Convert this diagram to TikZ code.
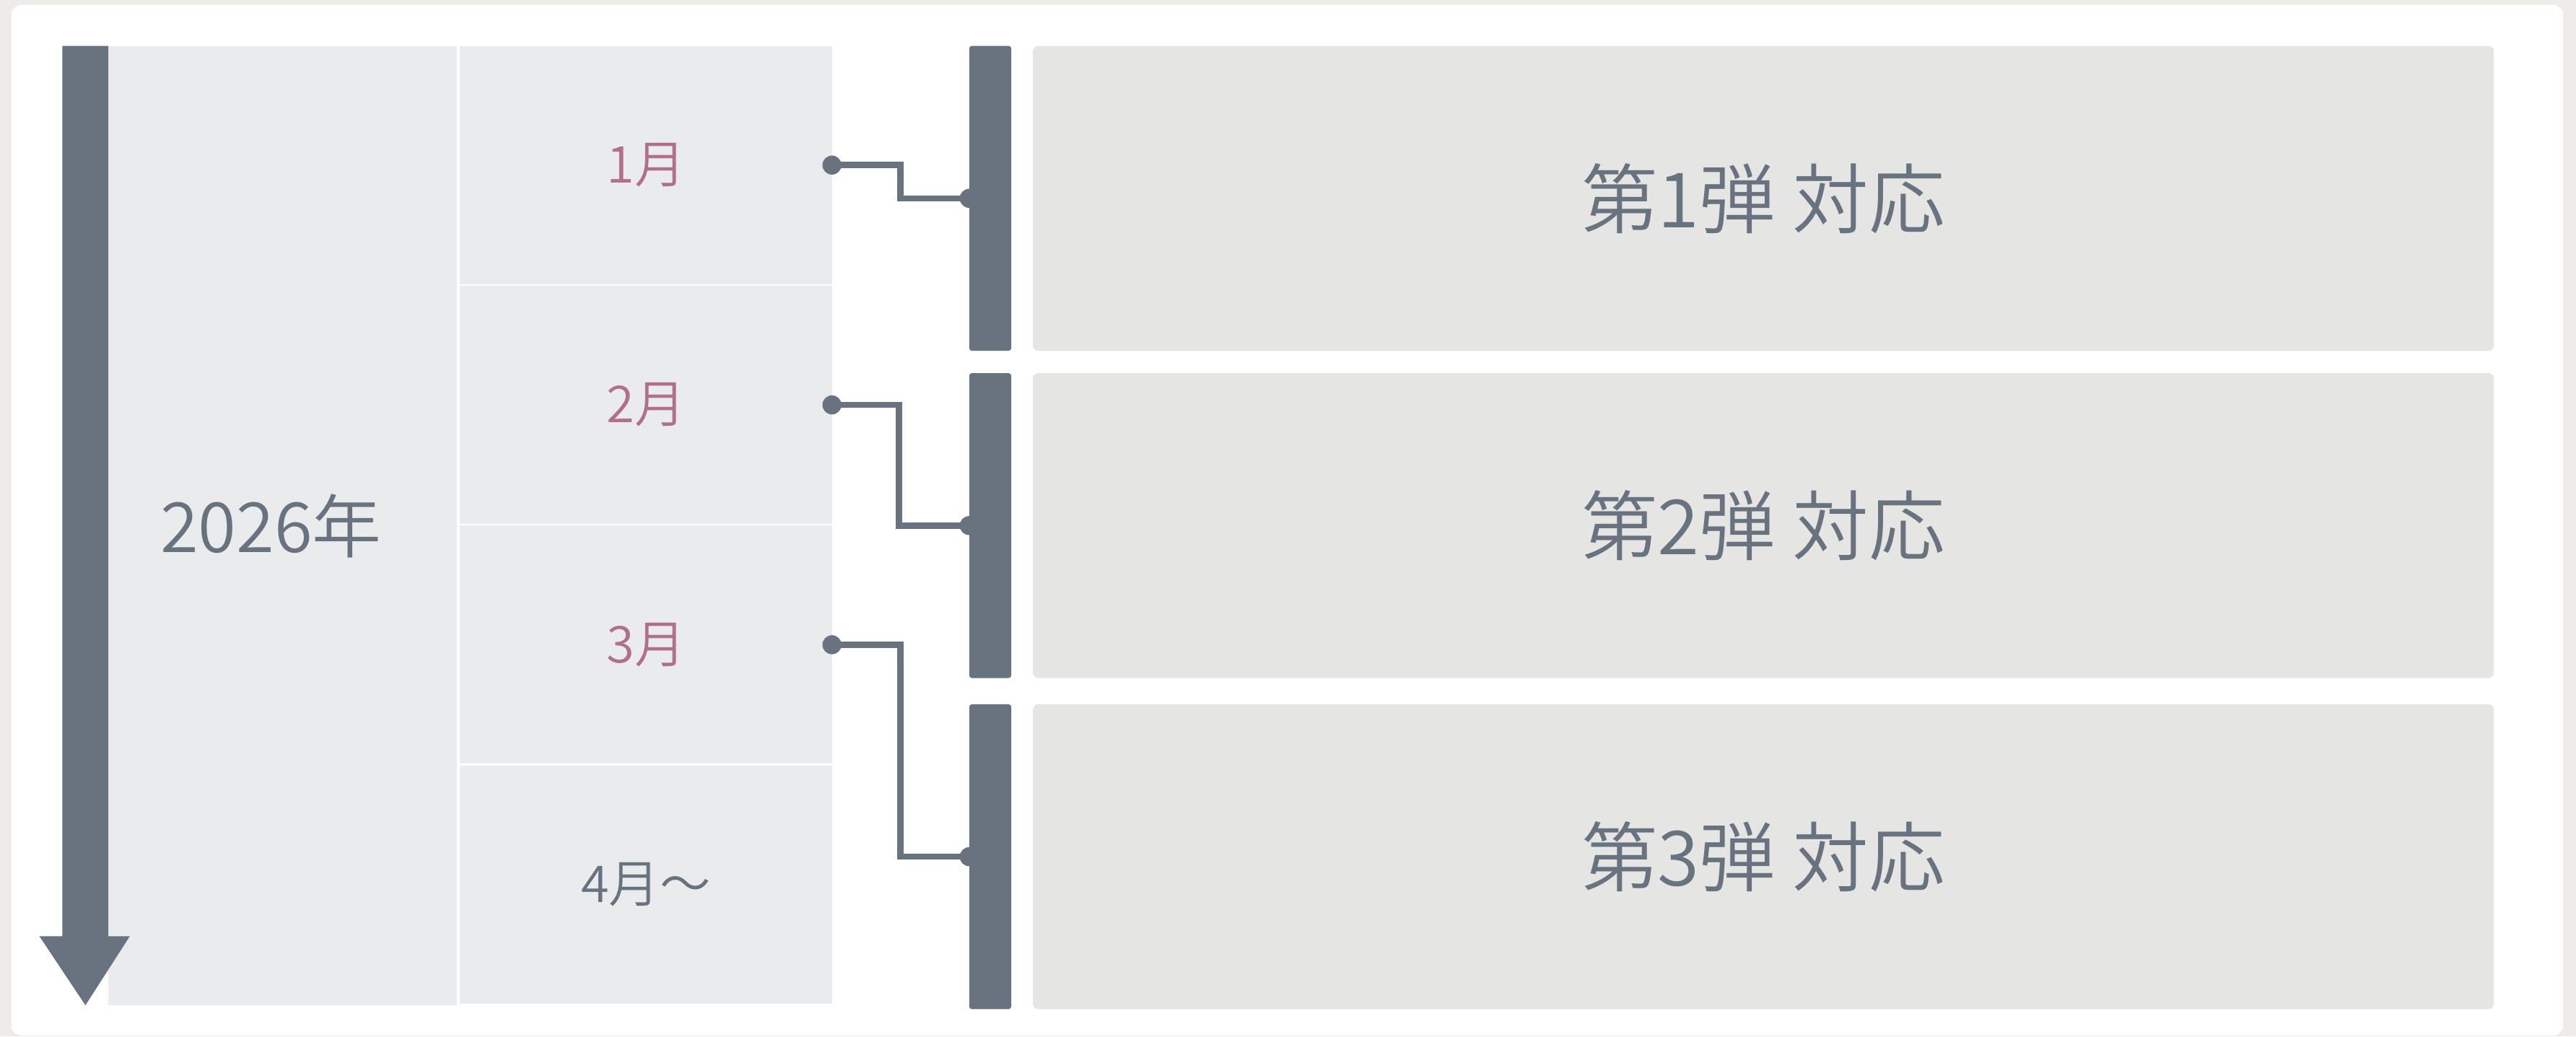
\documentclass[tikz,border=0pt]{standalone}
\usepackage{fontspec}
\setmainfont{Noto Sans CJK JP}[UprightFont=* DemiLight]
\usetikzlibrary{positioning}
\definecolor{slate}{HTML}{68737F}
\definecolor{framegray}{HTML}{EDECE8}
\definecolor{colgray}{HTML}{EAEBED}
\definecolor{boxgray}{HTML}{E5E5E3}
\definecolor{monthred}{HTML}{B07088}

\begin{document}
\begin{tikzpicture} [x=0.25mm, y=-0.25mm,
     C/.style = {fill=colgray, inner sep=0, outer sep=0, text=slate},
     M/.style = {C, minimum width=56.6mm, minimum height=36.25mm, font=\fontsize{22}{26}\selectfont, text=monthred},
   bar/.style = {fill=slate, rounded corners=0.4mm, inner sep=0, outer sep=0, minimum width=6.4mm, minimum height=46.4mm},
     B/.style = {fill=boxgray, rounded corners=0.8mm, inner sep=0, outer sep=0, minimum width=222.3mm, minimum height=46.4mm, text=slate, font=\fontsize{33}{40}\selectfont},
  link/.style = {draw=slate, line width=0.95mm},
   dot/.style = {fill=slate}
]
  % Frame
  \fill[framegray] (0,0) rectangle (1568,631);
  \fill[white, rounded corners=1.5mm] (7,3) rectangle (1560,630.5);

  % Nodes and Positions
  % YEAR COLUMN
  \node[C, minimum width=53mm, minimum height=146mm, font=\fontsize{30}{36}\selectfont] (year) at (172,320) {\hspace{-3.5mm}2026年};
  \fill[slate] (38,28) -- (66,28) -- (66,570) -- (79,570) -- (52,612) -- (24,570) -- (38,570) -- cycle;

  % MONTHS
  \node[M] (jan) [below right=0pt and 0.5mm of year.north east, anchor=north west] {1月};
  \node[M] (feb) [below=0.25mm of jan] {2月};
  \node[M] (mar) [below=0.25mm of feb] {3月};
  \node[M, text=slate] (apr) [below=0.25mm of mar] {4月～};

  % BARS AND BOXES
  \node[bar] (bar1) at (602.75,120.75) {};
  \node[bar] (bar2) [below=3.4mm of bar1] {};
  \node[bar] (bar3) [below=4mm of bar2] {};

  \node[B] (stage1) [right=3.3mm of bar1] {第1弾 対応};
  \node[B] (stage2) [right=3.3mm of bar2] {第2弾 対応};
  \node[B] (stage3) [right=3.3mm of bar3] {第3弾 対応};

  % Edges
  \draw[link] (jan.east) -- ++(10.4mm,0) |- (bar1.west);
  \draw[link] (feb.east) -- ++(10.2mm,0) |- (bar2.west);
  \draw[link] (mar.east) -- ++(10.4mm,0) |- (bar3.west);

  \foreach \n in {jan, feb, mar}
    \fill[dot] (\n.east) circle (1.45mm);
  \foreach \n in {bar1, bar2, bar3}
    \fill[dot] (\n.west) circle (1.45mm);
\end{tikzpicture}
\end{document}
